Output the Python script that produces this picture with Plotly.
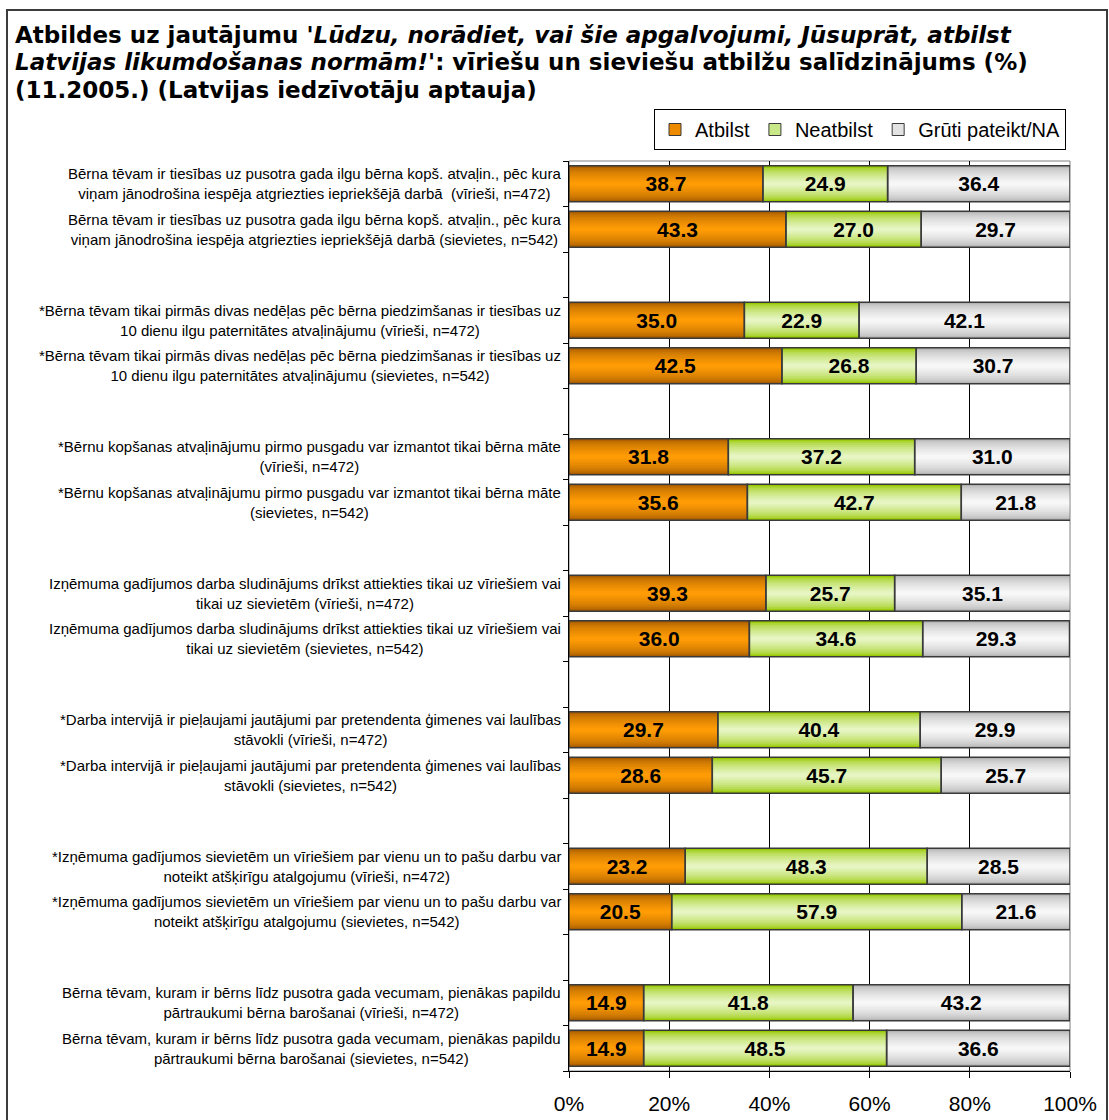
import plotly.graph_objects as go

# Survey statements (two label lines each) and respondent groups
statement_line1 = [
    "Bērna tēvam ir tiesības uz pusotra gada ilgu bērna kopš. atvaļin., pēc kura",
    "*Bērna tēvam tikai pirmās divas nedēļas pēc bērna piedzimšanas ir tiesības uz",
    "*Bērnu kopšanas atvaļinājumu pirmo pusgadu var izmantot tikai bērna māte",
    "Izņēmuma gadījumos darba sludinājums drīkst attiekties tikai uz vīriešiem vai",
    "*Darba intervijā ir pieļaujami jautājumi par pretendenta ģimenes vai laulības",
    "*Izņēmuma gadījumos sievietēm un vīriešiem par vienu un to pašu darbu var",
    "Bērna tēvam, kuram ir bērns līdz pusotra gada vecumam, pienākas papildu",
]
statement_line2 = [
    "viņam jānodrošina iespēja atgriezties iepriekšējā darbā",
    "10 dienu ilgu paternitātes atvaļinājumu",
    "",
    "tikai uz sievietēm",
    "stāvokli",
    "noteikt atšķirīgu atalgojumu",
    "pārtraukumi bērna barošanai",
]
groups = ["(vīrieši, n=472)", "(sievietes, n=542)"]

# Shares in % — rows alternate men / women for each statement
atbilst = [38.7, 43.3, 35.0, 42.5, 31.8, 35.6, 39.3, 36.0, 29.7, 28.6, 23.2, 20.5, 14.9, 14.9]
neatbilst = [24.9, 27.0, 22.9, 26.8, 37.2, 42.7, 25.7, 34.6, 40.4, 45.7, 48.3, 57.9, 41.8, 48.5]
gruti = [36.4, 29.7, 42.1, 30.7, 31.0, 21.8, 35.1, 29.3, 29.9, 25.7, 28.5, 21.6, 43.2, 36.6]

series_names = ["Atbilst", "Neatbilst", "Grūti pateikt/NA"]
# (edge colour, centre colour) of each series' shaded fill
series_shades = [("#A65C00", "#FF9C05"), ("#96C800", "#E6F5C2"), ("#B4B4B4", "#F7F7F7")]
legend_colors = ["#EE8A00", "#C8E88A", "#E2E2E2"]

x_ticks = [0, 20, 40, 60, 80, 100]

title_lines = [
    "<b>Atbildes uz jautājumu <i>'Lūdzu, norādiet, vai šie apgalvojumi, Jūsuprāt, atbilst</i></b>",
    "<b><i>Latvijas likumdošanas normām!'</i>: vīriešu un sieviešu atbilžu salīdzinājums (%)</b>",
    "<b>(11.2005.) (Latvijas iedzīvotāju aptauja)</b>",
]

# Row labels; the men's label of the first statement has a double space before the bracket
labels = []
for i in range(len(statement_line1)):
    for g in groups:
        if statement_line2[i]:
            sep = "  " if (i == 0 and g == groups[0]) else " "
            second = statement_line2[i] + sep + g
        else:
            second = g
        labels.append(statement_line1[i] + "<br>" + second)

# Category slots: each statement pair is followed by an empty slot
positions = []
for i in range(len(statement_line1)):
    positions += [3 * i, 3 * i + 1]
n_slots = 3 * len(statement_line1) - 1

W, H = 1109, 1120
L, R, T, B = 569, 1070, 161, 1071  # plot area in pixels
FONT = "Liberation Sans, Arial, sans-serif"
TITLE_FONT = "DejaVu Sans, Liberation Sans, sans-serif"
BAR_W = 0.79      # bar thickness in category units
N_LAYERS = 9      # bands used to shade each bar from edge to centre


def px(x):
    return (x - L) / (R - L)


def py(y):
    return (B - y) / (B - T)


def mix(c1, c2, t):
    a = [int(c1[i:i + 2], 16) for i in (1, 3, 5)]
    b = [int(c2[i:i + 2], 16) for i in (1, 3, 5)]
    return "#" + "".join(f"{round(x + (y - x) * t):02x}" for x, y in zip(a, b))


series_values = [atbilst, neatbilst, gruti]

# Left end of each segment = running total of the preceding series
bases = []
running = [0.0] * len(positions)
for vals in series_values:
    bases.append(list(running))
    running = [r + v for r, v in zip(running, vals)]

fig = go.Figure()
for name, vals, base, (edge, centre) in zip(series_names, series_values, bases, series_shades):
    # shaded fill: nested bands, thinner ones closer to the centre colour
    for j in range(N_LAYERS):
        t = (j / (N_LAYERS - 1)) ** 0.6
        fig.add_trace(go.Bar(
            name=name,
            x=vals, base=base, y=positions,
            orientation="h",
            width=[BAR_W * (1 - j / N_LAYERS)] * len(vals),
            marker=dict(color=mix(edge, centre, t), line=dict(width=0)),
            legendgroup=name,
            showlegend=False,
            hoverinfo="skip",
        ))

# Outlines and value labels on top of the shading
for name, vals, base in zip(series_names, series_values, bases):
    fig.add_trace(go.Bar(
        name=name,
        x=vals, base=base, y=positions,
        orientation="h",
        width=[BAR_W] * len(vals),
        marker=dict(color="rgba(0,0,0,0)", line=dict(color="#3A3A3A", width=1.5)),
        text=[f"{v:.1f}" for v in vals],
        textposition="inside",
        insidetextanchor="middle",
        textangle=0,
        constraintext="none",
        textfont=dict(family=FONT, size=21, color="black", weight="bold"),
        legendgroup=name,
        showlegend=False,
        hoverinfo="skip",
    ))

# Legend keys: outlined swatches for the three answer categories
for name, col in zip(series_names, legend_colors):
    fig.add_trace(go.Bar(
        name=name, x=[None], y=[None], orientation="h",
        marker=dict(color=col, line=dict(color="#3A3A3A", width=1)),
        legendgroup=name, showlegend=True, hoverinfo="skip",
    ))

# Row labels as centred two-line blocks placed against the axis
for pos, lab in zip(positions, labels):
    fig.add_annotation(
        x=0, xref="paper", y=pos, yref="y",
        text=lab, showarrow=False,
        xanchor="right", yanchor="middle", align="center",
        xshift=-6,
        font=dict(family=FONT, size=15, color="black"),
    )

# Three-line heading, one annotation per line
for k, line in enumerate(title_lines):
    fig.add_annotation(
        x=px(13), xref="paper", y=py(35 + 27.5 * k), yref="paper",
        text=line, showarrow=False,
        xanchor="left", yanchor="middle", align="left",
        font=dict(family=TITLE_FONT, size=23, color="black"),
    )

fig.update_layout(
    width=W, height=H,
    margin=dict(l=L, r=W - R, t=T, b=H - B, autoexpand=False),
    paper_bgcolor="white",
    plot_bgcolor="white",
    barmode="overlay",
    font=dict(family=FONT, color="black"),
    legend=dict(
        orientation="h",
        x=px(1066), xanchor="right",
        y=py(109), yanchor="top",
        bordercolor="black", borderwidth=1,
        bgcolor="white",
        font=dict(size=20, color="black"),
        traceorder="normal",
        itemwidth=30,
    ),
    xaxis=dict(
        range=[0, 100],
        tickvals=x_ticks,
        ticktext=[f"{v}%" for v in x_ticks],
        showgrid=True, gridcolor="black", gridwidth=1,
        zeroline=False,
        showline=True, linecolor="black", linewidth=1,
        ticks="outside", ticklen=6, tickcolor="black",
        tickfont=dict(size=21, color="black"),
        ticklabelstandoff=8,
        automargin=False,
        fixedrange=True,
    ),
    yaxis=dict(
        range=[n_slots - 0.5, -0.5],
        tickvals=[k - 0.5 for k in range(n_slots + 1)],
        ticktext=["" for _ in range(n_slots + 1)],
        showgrid=False, zeroline=False,
        showline=True, linecolor="black", linewidth=1,
        ticks="outside", ticklen=5, tickcolor="black",
        automargin=False,
        fixedrange=True,
    ),
    shapes=[
        # plot-area frame
        dict(type="rect", xref="x domain", yref="y domain", x0=0, x1=1, y0=0, y1=1,
             line=dict(color="#808080", width=1), layer="below"),
        # outer chart frame
        dict(type="rect", xref="paper", yref="paper",
             x0=px(7), x1=px(1107), y0=py(1130), y1=py(10),
             line=dict(color="#3C3C3C", width=2)),
    ],
)

fig.write_html("out.html")
